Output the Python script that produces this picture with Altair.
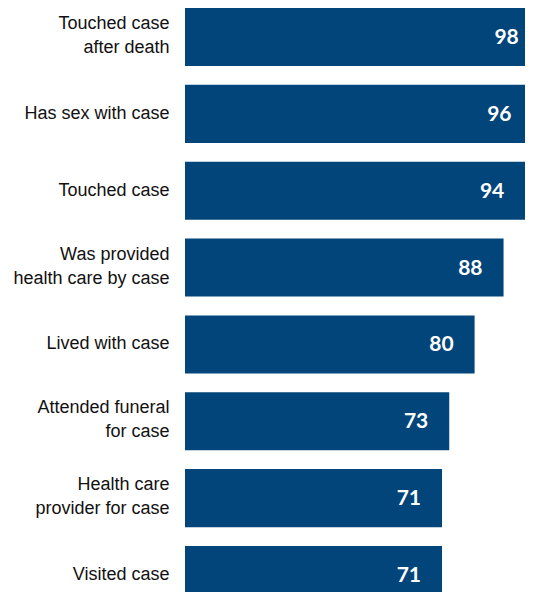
import altair as alt
import pandas as pd

categories = [
    "Touched case|after death",
    "Has sex with case",
    "Touched case",
    "Was provided|health care by case",
    "Lived with case",
    "Attended funeral|for case",
    "Health care|provider for case",
    "Visited case",
]
values = [98, 96, 94, 88, 80, 73, 71, 71]

df = pd.DataFrame({"cat": categories, "val": values})

BAR = "#02457A"

y_enc = alt.Y(
    "cat:N",
    sort=categories,
    scale=alt.Scale(paddingInner=0.245, paddingOuter=0, range=[0, 596]),
    axis=alt.Axis(
        title=None,
        domain=False,
        ticks=False,
        grid=False,
        labelExpr="split(datum.label, '|')",
        labelFont="Liberation Sans",
        labelFontSize=18,
        labelLineHeight=24,
        labelColor="#111111",
        labelPadding=16,
        labelLimit=200,
        labelOffset={"condition": {"test": "indexof(datum.value, '|') >= 0", "value": -13}, "value": 0},
    ),
)
x_enc = alt.X("val:Q", scale=alt.Scale(domain=[0, 100], range=[0, 362], nice=False, zero=True), axis=None)

bars = alt.Chart(df).mark_bar(color=BAR).encode(y=y_enc, x=x_enc)
labels = alt.Chart(df).mark_text(
    align="right", baseline="middle", dx=-21, dy=1,
    font="Lato", fontSize=21, fontWeight="bold", color="white",
).encode(y=alt.Y("cat:N", sort=categories), x=alt.X("val:Q"), text="val:Q")

chart = (
    alt.layer(bars, labels)
    .properties(
        width=340,
        height=584,
        autosize=alt.AutoSizeParams(type="none"),
        padding={"left": 177, "top": 0, "right": 0, "bottom": 0},
    )
    .configure_view(stroke=None)
)

chart.save("out.html", embed_options={"renderer": "svg", "actions": False})
